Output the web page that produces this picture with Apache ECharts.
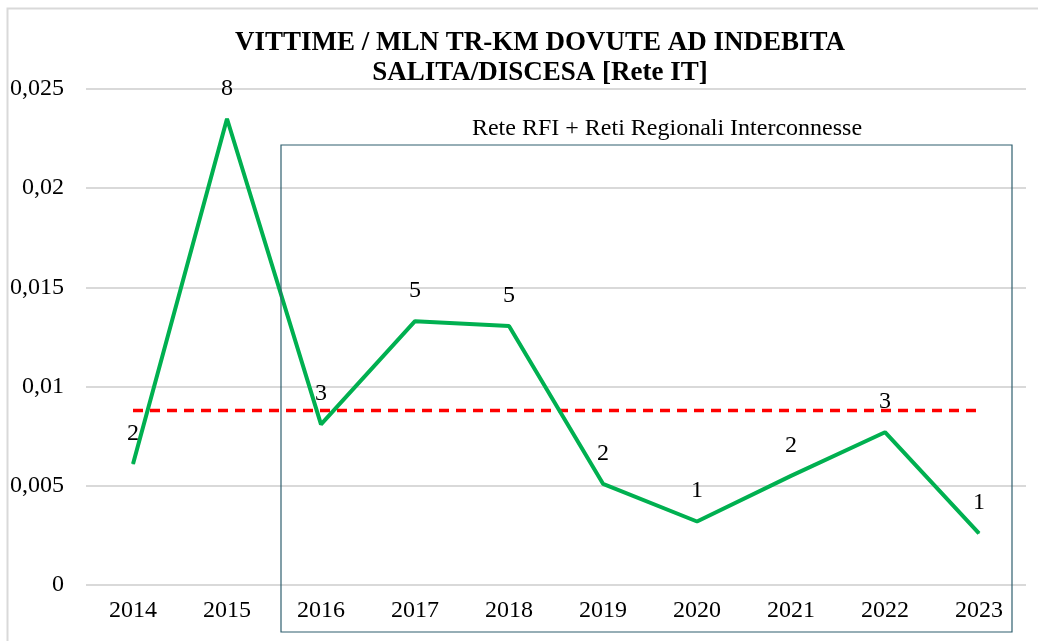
<!DOCTYPE html>
<html>
<head>
<meta charset="utf-8">
<script src="https://cdn.jsdelivr.net/npm/echarts@6/dist/echarts.min.js"></script>
<style>
  html, body { margin: 0; padding: 0; background: #fff; }
  #chart { width: 1038px; height: 641px; }
</style>
</head>
<body>
<div id="chart"></div>
<script>
// dati
const years = ['2014', '2015', '2016', '2017', '2018', '2019', '2020', '2021', '2022', '2023'];
const rates = [0.0061, 0.0235, 0.0081, 0.0133, 0.01305, 0.0051, 0.0032, 0.0055, 0.0077, 0.0026];
const victims = [2, 8, 3, 5, 5, 2, 1, 2, 3, 1];
const average = [0.0088, 0.0088, 0.0088, 0.0088, 0.0088, 0.0088, 0.0088, 0.0088, 0.0088, 0.0088];

const font = '"Liberation Serif", "Times New Roman", serif';
const myChart = echarts.init(document.getElementById('chart'));

myChart.setOption({
  animation: false,
  textStyle: { fontFamily: font },
  title: {
    text: 'VITTIME / MLN TR-KM DOVUTE AD INDEBITA\nSALITA/DISCESA [Rete IT]',
    left: 535,
    top: 23,
    textAlign: 'center',
    textStyle: {
      fontFamily: font,
      fontWeight: 'bold',
      fontSize: 27,
      lineHeight: 30,
      color: '#000'
    }
  },
  grid: { left: 86, right: 12, top: 89, bottom: 56 },
  xAxis: {
    type: 'category',
    data: years,
    boundaryGap: true,
    axisLine: { show: false },
    axisTick: { show: false },
    axisLabel: { color: '#000', fontSize: 24, fontFamily: font, margin: 14 }
  },
  yAxis: {
    type: 'value',
    min: 0,
    max: 0.025,
    interval: 0.005,
    axisLine: { show: false },
    axisTick: { show: false },
    axisLabel: {
      color: '#000',
      fontSize: 24,
      fontFamily: font,
      margin: 22,
      formatter: v => String(+v.toFixed(3)).replace('.', ',')
    },
    splitLine: { lineStyle: { color: '#d9d9d9', width: 2 } }
  },
  series: [
    {
      type: 'line',
      data: rates,
      symbol: 'circle',
      symbolSize: 1,
      showSymbol: true,
      itemStyle: { color: '#00b050' },
      lineStyle: { color: '#00b050', width: 4 },
      label: {
        show: true,
        position: 'top',
        distance: 18,
        color: '#000',
        fontSize: 24,
        fontFamily: font,
        formatter: p => victims[p.dataIndex]
      },
      labelLayout: { hideOverlap: false },
      z: 3
    },
    {
      type: 'line',
      data: average,
      symbol: 'none',
      lineStyle: { color: '#ff0000', width: 3.5, type: [10, 7] },
      z: 2
    }
  ],
  graphic: [
    {
      type: 'rect',
      left: 5, top: 6,
      shape: { width: 1100, height: 700 },
      style: { fill: 'none', stroke: '#d9d9d9', lineWidth: 2 },
      silent: true
    },
    {
      type: 'rect',
      shape: { x: 281, y: 145, width: 731, height: 487 },
      style: { fill: 'none', stroke: '#2f5f6f', lineWidth: 1.2 },
      silent: true,
      z: 10
    },
    {
      type: 'text',
      x: 667, y: 129,
      style: {
        text: 'Rete RFI + Reti Regionali Interconnesse',
        fill: '#000',
        font: '24px ' + font,
        align: 'center',
        verticalAlign: 'middle'
      },
      silent: true
    }
  ]
});
</script>
</body>
</html>
